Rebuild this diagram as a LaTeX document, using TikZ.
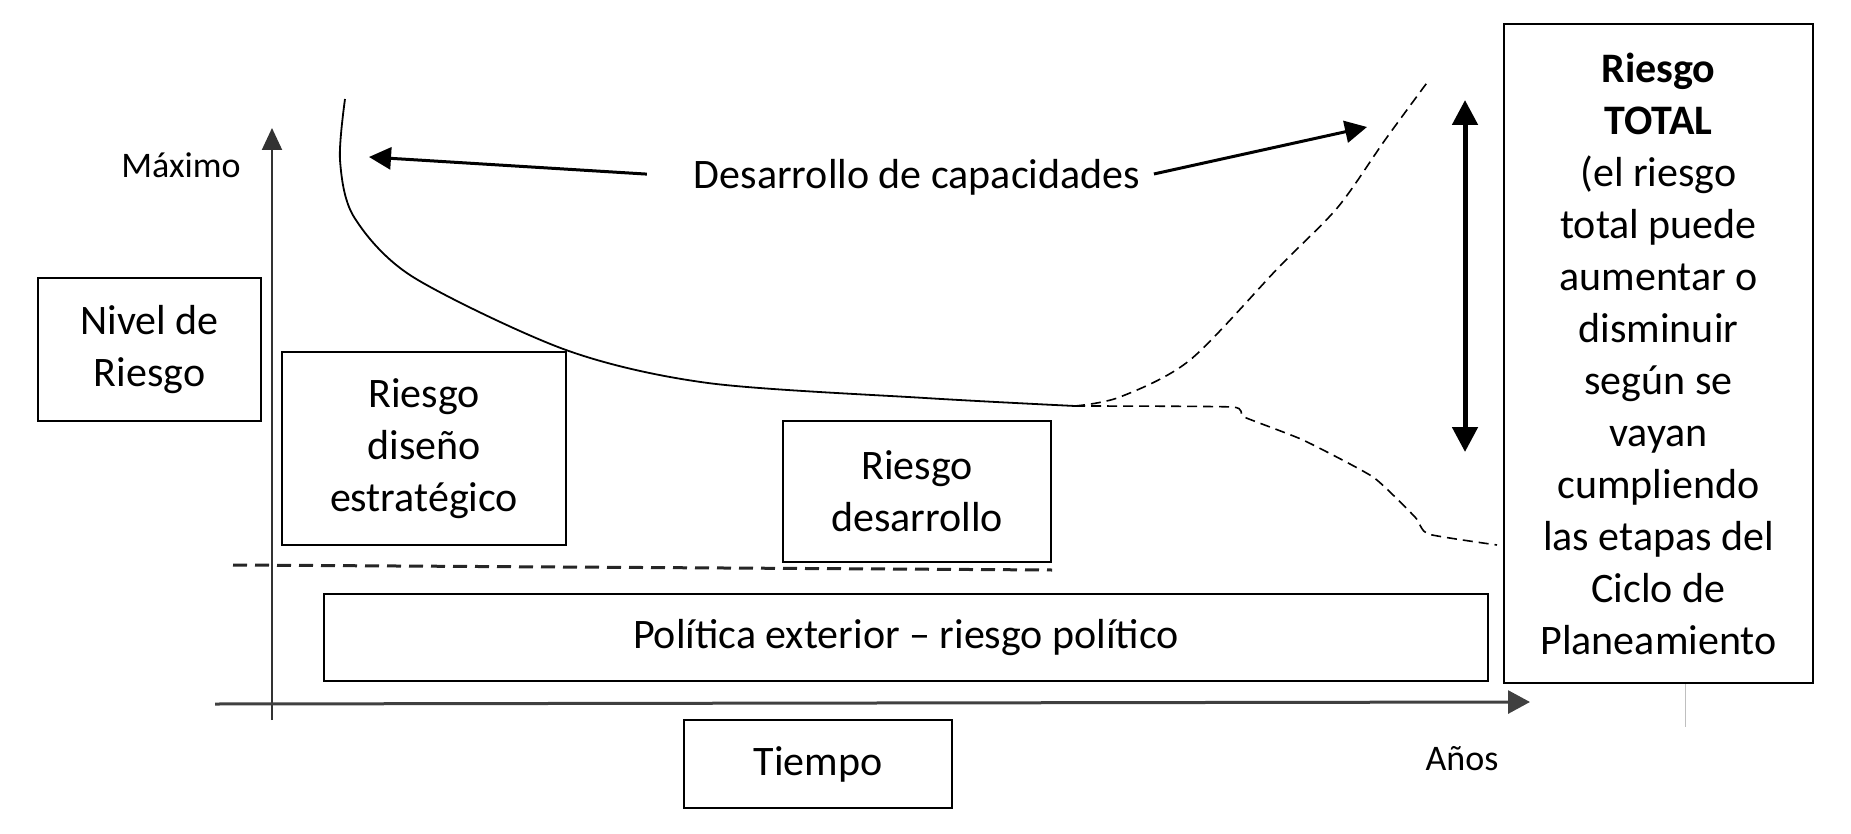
\documentclass[tikz,border=0pt]{standalone}
\usepackage{fontspec}
\setmainfont{Carlito}
\usetikzlibrary{arrows.meta, positioning}

\begin{document}
\begin{tikzpicture}[x=1pt, y=-1pt,
  box/.style={draw, line width=2pt, align=center, inner sep=0pt, font=\fontsize{42}{52}\selectfont},
  lbl/.style={inner sep=0pt, font=\fontsize{42}{52}\selectfont},
  small/.style={inner sep=0pt, font=\fontsize{36}{44}\selectfont},
  dashline/.style={line width=1.6pt, dash pattern=on 10pt off 6pt},
  arr/.style={line width=3pt, arrows={-Triangle[length=22pt, width=22pt]}}]
  \useasboundingbox (0,0) rectangle (1851,834);
  % boxes
  \node[box, minimum width=223pt, minimum height=143pt] (nivel) at (149.5,349.5) {Nivel de\\Riesgo};
  \node[box, minimum width=284pt, minimum height=193pt] (diseno) at (424,448.5) {Riesgo\\diseño\\estratégico};
  \node[box, minimum width=268pt, minimum height=141pt] (desar) at (917,491.5) {Riesgo\\desarrollo};
  \node[box, minimum width=1164pt, minimum height=87pt] (pol) at (906,637.5) {Política exterior -- riesgo político};
  \node[box, minimum width=268pt, minimum height=88pt] (tiempo) at (818,764) {Tiempo};
  \node[box, minimum width=309pt, minimum height=659pt] (total) at (1658.5,353.5)
    {\textbf{Riesgo}\\\textbf{TOTAL}\\(el riesgo\\total puede\\aumentar o\\disminuir\\según se\\vayan\\cumpliendo\\las etapas del\\Ciclo de\\Planeamiento};
  \node[small] (max) at (181,165) {Máximo};
  \node[small] (anos) at (1462,759) {Años};
  \node[lbl] (cap) at (917,177) {Desarrollo de capacidades};
  % axes
  \coordinate (ybot) at (272,720);
  \coordinate (ytop) at (272,128);
  \coordinate (xlft) at (215,704);
  \coordinate (xrgt) at (1530,702);
  \draw[line width=2pt, black!80, arrows={-Triangle[length=22pt, width=20pt]}] (ybot) -- (ytop);
  \draw[line width=3pt, black!75, arrows={-Triangle[length=22pt, width=23pt]}] (xlft) -- (xrgt);
  \draw[line width=1pt, black!25] (1685,684) -- (1685,727);
  % curves
  \draw[line width=1.8pt] plot[smooth] coordinates {(345,99) (340,160) (354,217) (413,277) (566,350) (708,383) (925,398) (1075,406)};
  \draw[dashline] plot[smooth] coordinates {(1075,406) (1120,397) (1190,360) (1279,267) (1338,207) (1385,140) (1429,80)};
  \draw[dashline] plot[smooth, tension=0.3] coordinates {(1075,406) (1232,407) (1244,417) (1303,440) (1373,477) (1415,517) (1428,534) (1497,545)};
  \draw[line width=3pt, dash pattern=on 14pt off 8pt, black!85] (233,565) -- (1052,570);
  % arrows
  \coordinate (tipL) at (369,157);
  \coordinate (tipR) at (1367,127);
  \draw[arr, shorten <=47pt] (cap.west) -- (tipL);
  \draw[arr, shorten <=14pt] (cap.east) -- (tipR);
  \coordinate (dtop) at (1465,100);
  \coordinate (dbot) at (1465,452);
  \draw[line width=5pt, arrows={Triangle[length=25pt, width=25pt]-Triangle[length=25pt, width=25pt]}] (dbot) -- (dtop);
\end{tikzpicture}
\end{document}
